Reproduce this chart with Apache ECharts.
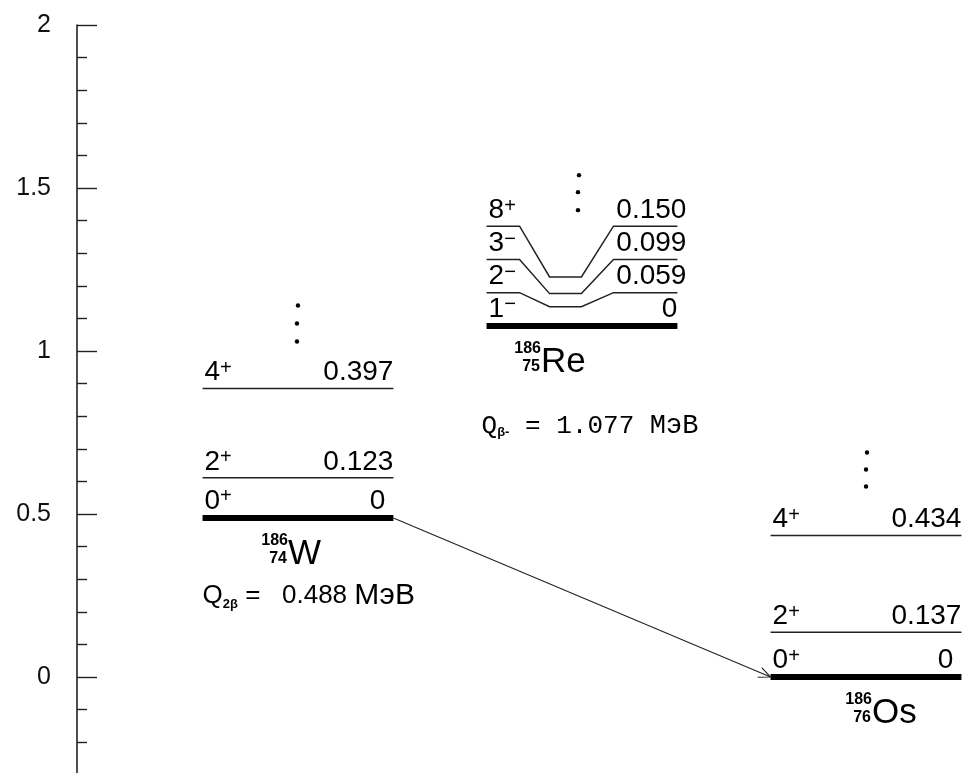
<!DOCTYPE html>
<html><head><meta charset="utf-8">
<script src="https://cdn.jsdelivr.net/npm/echarts@6/dist/echarts.min.js"></script>
<style>html,body{margin:0;padding:0;background:#fff}#c{width:964px;height:773px}</style>
</head><body><div id="c"></div>
<script>
// ---------------- data ----------------
const yTickLabels = ['0', '0.5', '1', '1.5', '2'];
const nuclei = ['W', 'Re', 'Os'];
const massNumbers = [186, 186, 186];
const atomicNumbers = [74, 75, 76];
const groundEnergies = [0.488, 1.077, 0];     // MeV, relative to 186Os ground state
const columnIndex = [0, 1, 2];
const wSpins = ['0+', '2+', '4+'];
const wEnergies = [0, 0.123, 0.397];
const reSpins = ['1-', '2-', '3-', '8+'];
const reEnergies = [0, 0.059, 0.099, 0.150];
const osSpins = ['0+', '2+', '4+'];
const osEnergies = [0, 0.137, 0.434];
const qModes = ['2β', 'β-'];
const qValues = [0.488, 1.077];
const qUnit = 'МэВ';
const transitionFrom = 0, transitionTo = 2;   // 2β decay W -> Os

// ---------------- layout / style ----------------
const FONT = 'Liberation Sans';
const HW = 0.336;          // half width of a level column (x units)
const RE_STEP = 0.102;     // display spacing of the expanded Re levels (y units)
const levelsByNucleus = [
  { spins: wSpins, energies: wEnergies },
  { spins: reSpins, energies: reEnergies },
  { spins: osSpins, energies: osEnergies }
];
const layout = [
  { split: false, eDxGround: -8, eDxExc: 0, symDx: -10, dotsDx: -1, dotsDy: [-83, -65, -47], q: 0, qDx: 0, qDy: 78,
    qFont: FONT, qSize: 26, qSep1: ' = ', qSep2: '  ', qSep3: ' ', uSize: 30 },
  { split: true, eDxGround: 0, eDxExc: 9, symDx: -41, dotsDx: -4, dotsDy: [-51, -34, -16], q: 1, qDx: -5, qDy: 100,
    qFont: 'Liberation Mono', qSize: 26, qSep1: ' = ', qSep2: '', qSep3: ' ', uSize: 27 },
  { split: false, eDxGround: -8, eDxExc: 0, symDx: 6, dotsDx: 0, dotsDy: [-83, -66, -49], q: null }
];
const splitFractions = [0, 0.173, 0.33, 0.497, 0.665, 1];

function spinRich(s) {
  const d = s.slice(0, -1), p = s.slice(-1) === '-' ? '\u2212' : '+';
  return '{d|' + d + '}{s|' + p + '}';
}
const spinRichStyles = {
  d: { fontSize: 28, fontFamily: FONT, fill: '#000' },
  s: { fontSize: 20, fontFamily: FONT, fill: '#000', verticalAlign: 'top', lineHeight: 14 }
};
function fmtE(e) { return e === 0 ? '0' : e.toFixed(3); }

function renderNucleus(params, api) {
  const i = params.dataIndex;
  const c = api.value(0), g = api.value(1);
  const lay = layout[i], col = levelsByNucleus[i];
  const xl = c - HW, xr = c + HW;
  const pG = api.coord([xl, g]);
  const pxL = pG[0], pyG = pG[1];
  const pxR = api.coord([xr, g])[0];
  const children = [];
  let topY = pyG;
  col.energies.forEach(function (e, k) {
    const ground = k === 0;
    let ySide;
    if (ground) {
      ySide = pyG;
      children.push({ type: 'line', shape: { x1: pxL, y1: pyG, x2: pxR, y2: pyG }, style: { stroke: '#000', lineWidth: 6 } });
    } else if (lay.split) {
      const yc = api.coord([c, g + e])[1];
      ySide = api.coord([c, g + k * RE_STEP])[1];
      const ys = [ySide, ySide, yc, yc, ySide, ySide];
      const pts = splitFractions.map(function (f, j) { return [api.coord([xl + f * 2 * HW, g])[0], ys[j]]; });
      children.push({ type: 'polyline', shape: { points: pts }, style: { stroke: '#222', lineWidth: 1.5, fill: 'none' } });
    } else {
      ySide = api.coord([c, g + e])[1];
      children.push({ type: 'line', shape: { x1: pxL, y1: ySide, x2: pxR, y2: ySide }, style: { stroke: '#222', lineWidth: 1.5 } });
    }
    topY = ySide;
    const ty = ySide - (ground ? 17 : 16);
    children.push({ type: 'text', x: pxL + 2, y: ty, style: { text: spinRich(col.spins[k]), align: 'left', verticalAlign: 'middle', rich: spinRichStyles, fontSize: 28, fontFamily: FONT, fill: '#000' } });
    children.push({ type: 'text', x: pxR + (ground ? lay.eDxGround : lay.eDxExc), y: ty, style: { text: fmtE(e), align: 'right', verticalAlign: 'middle', fontSize: 28, fontFamily: FONT, fill: '#000' } });
  });
  // continuation dots
  const cx = api.coord([c, g])[0] + lay.dotsDx;
  lay.dotsDy.forEach(function (dy, j) {
    children.push({ type: 'circle', shape: { cx: cx + (j === 0 ? 1 : 0), cy: topY + dy, r: 2.2 }, style: { fill: '#000' } });
  });
  // nuclide label
  const ax = api.coord([c, g])[0] + lay.symDx;
  children.push({ type: 'text', x: ax, y: pyG + 36, style: { text: nuclei[i], align: 'left', verticalAlign: 'middle', fontSize: 35, fontFamily: FONT, fill: '#000' } });
  children.push({ type: 'text', x: ax, y: pyG + 23, style: { text: String(massNumbers[i]), align: 'right', verticalAlign: 'middle', fontSize: 16, fontWeight: 'bold', fontFamily: FONT, fill: '#000' } });
  children.push({ type: 'text', x: ax - 1, y: pyG + 41, style: { text: String(atomicNumbers[i]), align: 'right', verticalAlign: 'middle', fontSize: 16, fontWeight: 'bold', fontFamily: FONT, fill: '#000' } });
  // Q value label
  if (lay.q !== null) {
    const q = lay.q;
    children.push({ type: 'text', x: pxL + lay.qDx, y: pyG + lay.qDy, style: {
      text: '{q|Q}{b|' + qModes[q] + '}{t|' + lay.qSep1 + lay.qSep2 + qValues[q].toFixed(3) + lay.qSep3 + '}{u|' + qUnit + '}',
      align: 'left', verticalAlign: 'middle', fontSize: lay.qSize, fontFamily: lay.qFont, fill: '#000',
      rich: {
        q: { fontSize: lay.qSize, fontFamily: lay.qFont, fill: '#000' },
        b: { fontSize: 13, fontFamily: FONT, fontWeight: 'bold', fill: '#000', verticalAlign: 'bottom', lineHeight: 14 },
        t: { fontSize: lay.qSize, fontFamily: lay.qFont, fill: '#000' },
        u: { fontSize: lay.uSize, fontFamily: lay.qFont, fill: '#000' }
      } } });
  }
  return { type: 'group', children: children };
}

function renderArrow(params, api) {
  const p1 = api.coord([api.value(0), api.value(1)]);
  const p2 = api.coord([api.value(2), api.value(3)]);
  const ang = Math.atan2(p2[1] - p1[1], p2[0] - p1[0]);
  const len = 13, spread = 0.42;
  const h1 = [p2[0] - len * Math.cos(ang - spread), p2[1] - len * Math.sin(ang - spread)];
  const h2 = [p2[0] - len * Math.cos(ang + spread), p2[1] - len * Math.sin(ang + spread)];
  return { type: 'group', children: [
    { type: 'line', shape: { x1: p1[0], y1: p1[1], x2: p2[0], y2: p2[1] }, style: { stroke: '#222', lineWidth: 1.1 } },
    { type: 'polyline', shape: { points: [h1, p2, h2] }, style: { stroke: '#222', lineWidth: 1.1, fill: 'none' } }
  ] };
}

const chart = echarts.init(document.getElementById('c'), null, { renderer: 'canvas' });
chart.setOption({
  backgroundColor: '#fff',
  animation: false,
  grid: { left: 77, right: 0, top: 25, height: 815, containLabel: false, outerBoundsMode: 'none' },
  xAxis: { type: 'value', min: -0.778, max: 2.345, show: false },
  yAxis: {
    type: 'value', min: -0.5, max: 2, interval: 0.5,
    axisLine: { show: true, onZero: false, lineStyle: { color: '#222', width: 1.6 } },
    axisTick: { show: true, inside: true, length: 20, lineStyle: { color: '#222', width: 1.4 } },
    minorTick: { show: true, splitNumber: 5, length: 10, lineStyle: { color: '#222', width: 1.4 } },
    splitLine: { show: false },
    axisLabel: {
      margin: 26, fontSize: 25, fontFamily: FONT, color: '#111',
      formatter: function (v) { const s = String(v); return yTickLabels.indexOf(s) >= 0 ? s : ''; }
    }
  },
  series: [
    { type: 'custom', renderItem: renderNucleus, clip: false,
      data: columnIndex.map(function (c, i) { return [c, groundEnergies[i]]; }) },
    { type: 'custom', renderItem: renderArrow, clip: false,
      data: [[columnIndex[transitionFrom] + HW, groundEnergies[transitionFrom], columnIndex[transitionTo] - HW, groundEnergies[transitionTo]]] }
  ]
});
</script></body></html>
